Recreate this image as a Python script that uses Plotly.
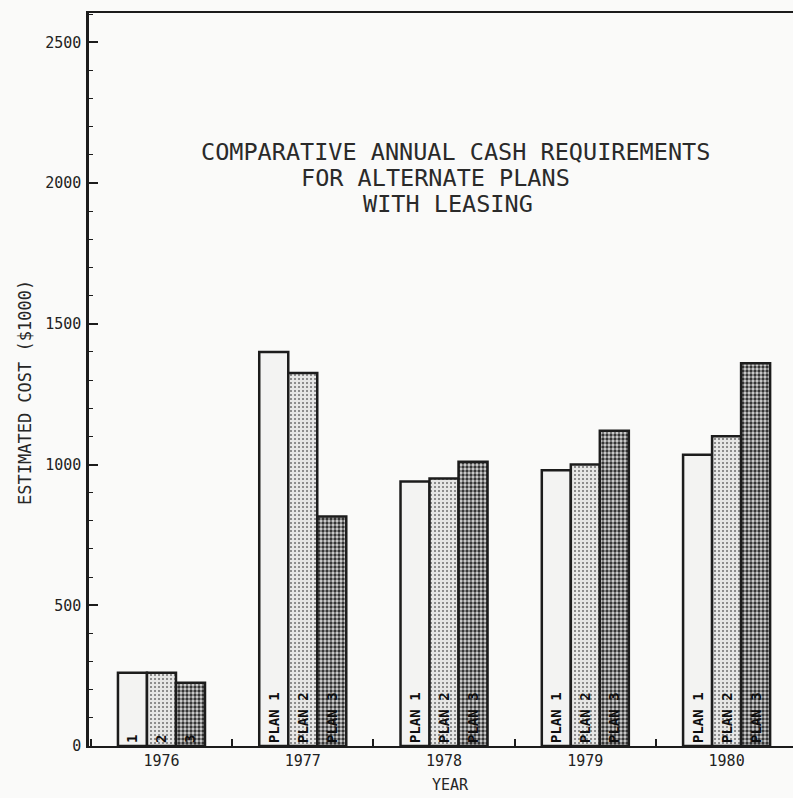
import plotly.graph_objects as go

# Annual cash requirements ($1000) by plan, with leasing
years = ["1976", "1977", "1978", "1979", "1980"]
plan1 = [260, 1400, 940, 980, 1035]
plan2 = [260, 1325, 950, 1000, 1100]
plan3 = [225, 815, 1010, 1120, 1360]

plan1_labels = ["1", "PLAN 1", "PLAN 1", "PLAN 1", "PLAN 1"]
plan2_labels = ["2", "PLAN 2", "PLAN 2", "PLAN 2", "PLAN 2"]
plan3_labels = ["3", "PLAN 3", "PLAN 3", "PLAN 3", "PLAN 3"]

y_ticks = [0, 500, 1000, 1500, 2000, 2500]

title_lines = [
    "COMPARATIVE ANNUAL CASH REQUIREMENTS",
    "FOR ALTERNATE PLANS",
    "WITH LEASING",
]

INK = "#1c1c1c"
PAPER = "#fafaf9"
MONO = "DejaVu Sans Mono, Liberation Mono, monospace"

W, H = 793, 798
M_L, M_R, M_T, M_B = 89, 0, 13, 52
PW, PH = W - M_L - M_R, H - M_T - M_B


def px_x(px):
    return (px - M_L) / PW


def px_y(py):
    return (H - M_B - py) / PH


styles = [
    dict(color="#f3f3f2", pattern=None),
    dict(color="#e4e4e4", pattern=dict(shape=".", fgcolor="#6e6e6e", bgcolor="#e6e6e5",
                                        size=4, solidity=0.2, fillmode="replace")),
    dict(color="#8c8c8c", pattern=dict(shape=".", fgcolor="#353535", bgcolor="#d6d6d6",
                                        size=4, solidity=0.55, fillmode="replace")),
]

fig = go.Figure()
for vals, labels, st in zip([plan1, plan2, plan3],
                            [plan1_labels, plan2_labels, plan3_labels], styles):
    marker = dict(color=st["color"], line=dict(color=INK, width=2.5))
    if st["pattern"]:
        marker["pattern"] = st["pattern"]
    fig.add_trace(go.Bar(
        x=years, y=vals, marker=marker,
        text=labels, textposition="inside", insidetextanchor="start",
        textangle=-90, constraintext="none",
        textfont=dict(family=MONO, size=14, color="#0e0e0e", weight="bold"),
        hoverinfo="skip", showlegend=False,
    ))

fig.update_layout(
    width=W, height=H,
    margin=dict(l=M_L, r=M_R, t=M_T, b=M_B, pad=0),
    paper_bgcolor=PAPER, plot_bgcolor=PAPER,
    barmode="group", bargap=0.384, bargroupgap=0,
    font=dict(family=MONO, color="#262626"),
    showlegend=False,
)

fig.update_xaxes(
    type="category", range=[-0.513, 4.47],
    showline=True, linecolor=INK, linewidth=2, mirror=True,
    ticks="inside", tickson="boundaries", ticklen=7, tickwidth=1.5, tickcolor=INK,
    tickfont=dict(family=MONO, size=15, color="#222222"),
    showgrid=False, zeroline=False,
)

fig.update_yaxes(
    range=[0, 2604],
    tickvals=y_ticks, ticktext=[str(v) for v in y_ticks],
    showline=True, linecolor=INK, linewidth=2.5,
    ticks="inside", ticklen=9, tickwidth=1.5, tickcolor=INK,
    minor=dict(dtick=100, tick0=0, ticks="inside", ticklen=4, tickwidth=1.2, tickcolor=INK),
    tickfont=dict(family=MONO, size=15, color="#222222"),
    ticklabelstandoff=2,
    showgrid=False, zeroline=False,
)

# Title block, one line per annotation
title_pos = [(455, 152), (435, 178), (448, 204)]
for line, (cx, cy) in zip(title_lines, title_pos):
    fig.add_annotation(
        text=line, x=px_x(cx), y=px_y(cy), xref="paper", yref="paper",
        xanchor="center", yanchor="middle", showarrow=False,
        font=dict(family=MONO, size=23.5, color="#2a2a2a"),
    )

# Axis titles
fig.add_annotation(
    text="ESTIMATED COST ($1000)", x=px_x(25), y=px_y(393), xref="paper", yref="paper",
    xanchor="center", yanchor="middle", textangle=-90, showarrow=False,
    font=dict(family=MONO, size=17, color="#262626"),
)
fig.add_annotation(
    text="YEAR", x=px_x(450), y=px_y(785), xref="paper", yref="paper",
    xanchor="center", yanchor="middle", showarrow=False,
    font=dict(family=MONO, size=15, color="#262626"),
)

fig.write_html("out.html")
